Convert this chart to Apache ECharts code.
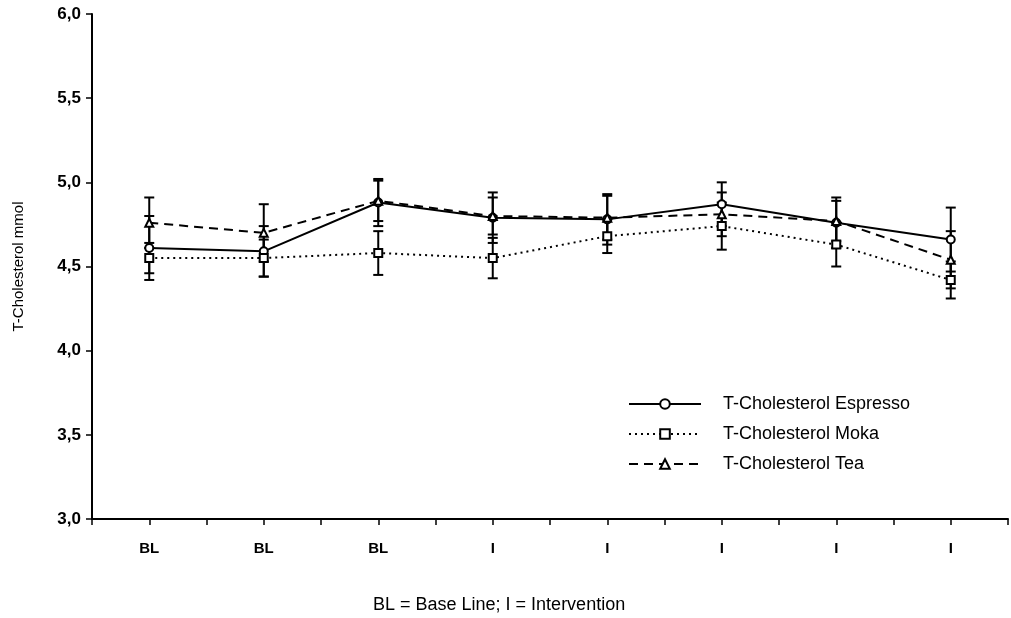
<!DOCTYPE html>
<html>
<head>
<meta charset="utf-8">
<script src="https://cdn.jsdelivr.net/npm/echarts@6/dist/echarts.min.js"></script>
<style>
  html, body { margin: 0; padding: 0; background: #fff; }
  #chart { width: 1011px; height: 618px; }
</style>
</head>
<body>
<div id="chart"></div>
<script>
    var categories = ['BL', 'BL', 'BL', 'I', 'I', 'I', 'I', 'I'];

    // mean values
    var espresso = [4.61, 4.59, 4.88, 4.79, 4.78, 4.87, 4.76, 4.66];
    var moka = [4.55, 4.55, 4.58, 4.55, 4.68, 4.74, 4.63, 4.42];
    var tea = [4.76, 4.70, 4.89, 4.80, 4.79, 4.81, 4.77, 4.54];

    // error bar half-lengths
    var espressoErr = [0.19, 0.15, 0.14, 0.15, 0.15, 0.13, 0.15, 0.19];
    var mokaErr = [0.09, 0.11, 0.13, 0.12, 0.10, 0.14, 0.13, 0.11];
    var teaErr = [0.15, 0.17, 0.12, 0.11, 0.13, 0.13, 0.12, 0.17];

    var yTicks = [3.0, 3.5, 4.0, 4.5, 5.0, 5.5, 6.0];

    var font = 'Liberation Sans, Arial, sans-serif';

    function points(vals) {
        return vals.map(function (v, i) { return [i + 0.5, v]; });
    }

    function bars(vals, errs) {
        return vals.map(function (v, i) { return [i + 0.5, v - errs[i], v + errs[i]]; });
    }

    function errorBar(params, api) {
        var x = api.value(0);
        var lo = api.coord([x, api.value(1)]);
        var hi = api.coord([x, api.value(2)]);
        var w = 5;
        var st = { stroke: '#000', lineWidth: 2 };
        return {
            type: 'group',
            children: [
                { type: 'line', shape: { x1: lo[0], y1: lo[1], x2: hi[0], y2: hi[1] }, style: st },
                { type: 'line', shape: { x1: lo[0] - w, y1: lo[1], x2: lo[0] + w, y2: lo[1] }, style: st },
                { type: 'line', shape: { x1: hi[0] - w, y1: hi[1], x2: hi[0] + w, y2: hi[1] }, style: st }
            ]
        };
    }

    var lineSeries = [
        { name: 'T-Cholesterol Espresso', data: espresso, symbol: 'circle', dash: 'solid' },
        { name: 'T-Cholesterol Moka', data: moka, symbol: 'rect', dash: [2, 4] },
        { name: 'T-Cholesterol Tea', data: tea, symbol: 'triangle', dash: [9, 6] }
    ];
    var errs = [espressoErr, mokaErr, teaErr];

    var series = [];
    lineSeries.forEach(function (s, k) {
        series.push({
            type: 'custom',
            renderItem: errorBar,
            data: bars(s.data, errs[k]),
            z: 1,
            silent: true
        });
    });
    lineSeries.forEach(function (s) {
        series.push({
            name: s.name,
            type: 'line',
            data: points(s.data),
            symbol: s.symbol,
            symbolSize: 8,
            z: 3,
            lineStyle: { color: '#000', width: 2, type: s.dash },
            itemStyle: { color: '#fff', borderColor: '#000', borderWidth: 2 }
        });
    });

    var option = {
        animation: false,
        backgroundColor: '#fff',
        title: {
            text: 'BL = Base Line; I = Intervention',
            left: 373,
            top: 596,
            padding: 0,
            textStyle: { fontFamily: font, fontSize: 18, fontWeight: 'normal', color: '#000' }
        },
        legend: {
            orient: 'vertical',
            left: 623,
            top: 390,
            itemWidth: 72,
            itemHeight: 12,
            itemGap: 12,
            data: lineSeries.map(function (s) { return s.name; }),
            textStyle: { fontFamily: font, fontSize: 18, lineHeight: 18, color: '#000', padding: [0, 0, 0, 17] }
        },
        grid: { left: 92, right: 2, top: 14, bottom: 99 },
        xAxis: {
            type: 'value',
            min: 0,
            max: 8,
            interval: 0.5,
            splitLine: { show: false },
            axisLine: { lineStyle: { color: '#000', width: 2 } },
            axisTick: { show: true, length: 6, lineStyle: { color: '#000', width: 1.5 } },
            axisLabel: {
                margin: 22,
                fontFamily: font,
                fontSize: 15,
                fontWeight: 'bold',
                color: '#000',
                showMinLabel: true,
                showMaxLabel: true,
                formatter: function (v) {
                    var i = Math.floor(v);
                    return (Math.abs(v - i - 0.5) < 1e-6) ? categories[i] : '';
                }
            }
        },
        yAxis: {
            type: 'value',
            min: yTicks[0],
            max: yTicks[yTicks.length - 1],
            interval: 0.5,
            name: 'T-Cholesterol mmol',
            nameLocation: 'middle',
            nameGap: 66,
            nameTextStyle: { fontFamily: font, fontSize: 15, color: '#000' },
            splitLine: { show: false },
            axisLine: { show: true, lineStyle: { color: '#000', width: 2 } },
            axisTick: { show: true, length: 6, lineStyle: { color: '#000', width: 1.5 } },
            axisLabel: {
                margin: 11,
                fontFamily: font,
                fontSize: 17,
                fontWeight: 'bold',
                color: '#000',
                formatter: function (v) { return v.toFixed(1).replace('.', ','); }
            }
        },
        series: series
    };

    var myChart = echarts.init(document.getElementById('chart'));
    myChart.setOption(option);
</script>
</body>
</html>
